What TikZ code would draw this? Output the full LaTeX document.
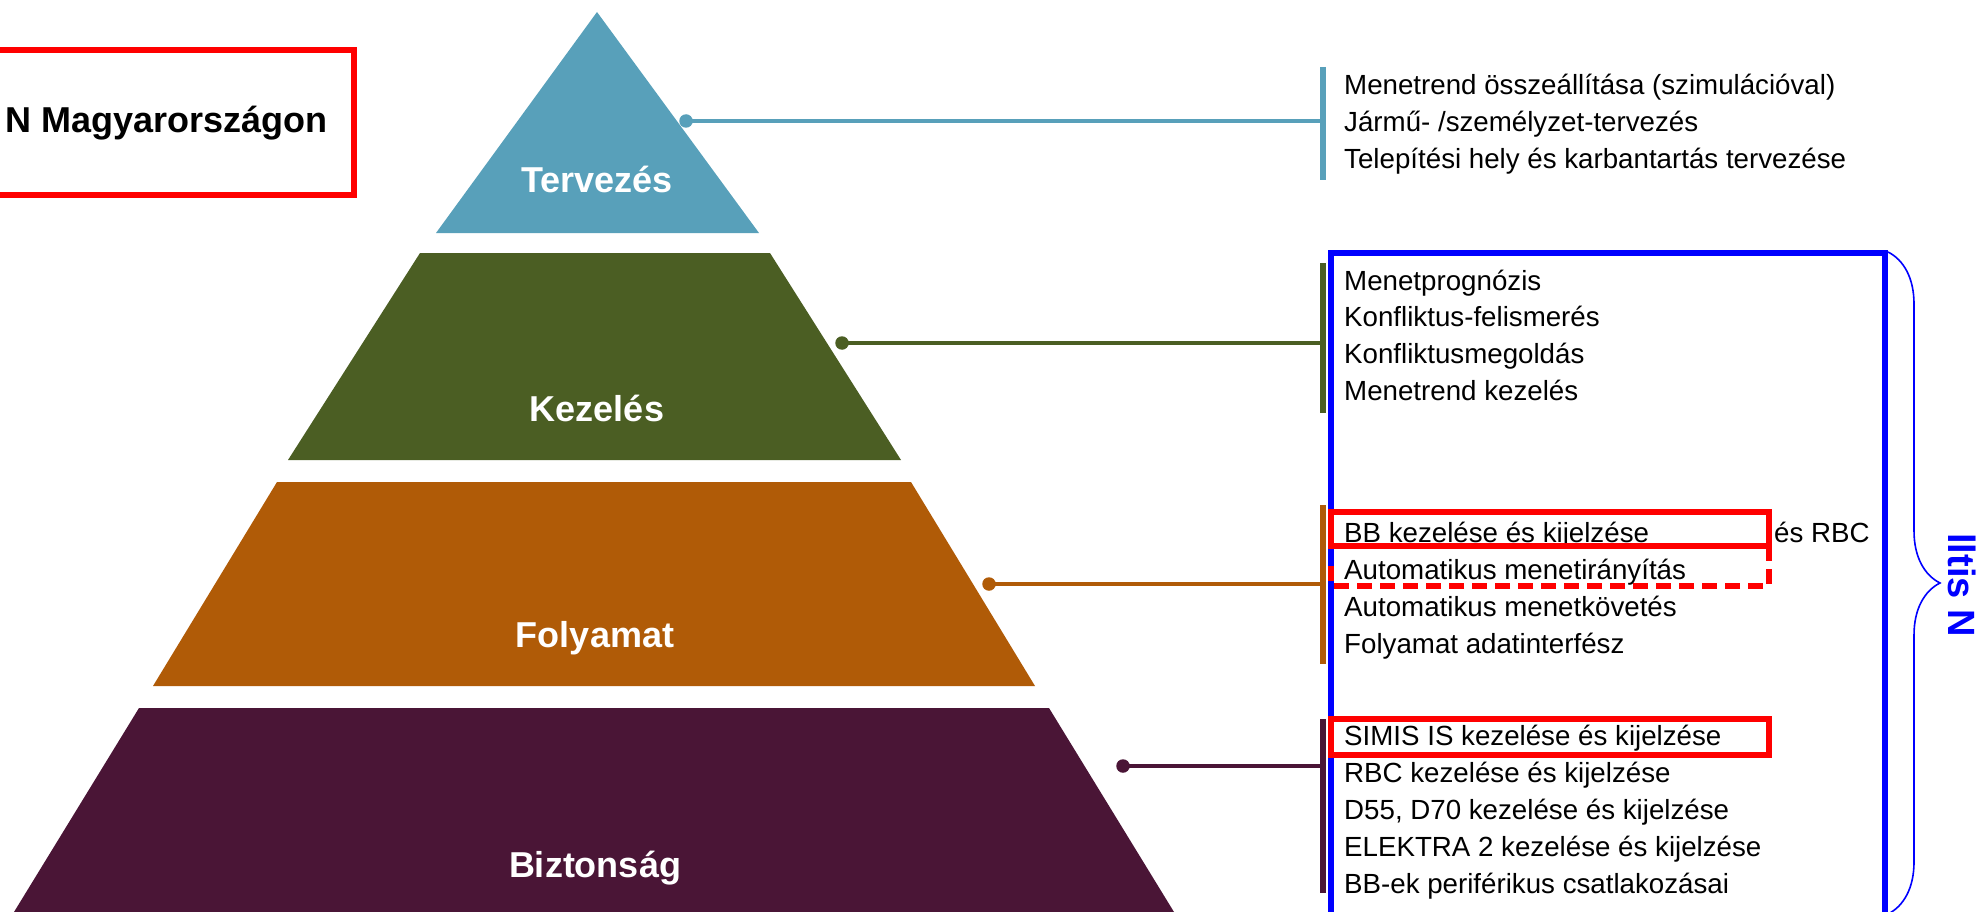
\documentclass[tikz,border=0pt]{standalone}
\usepackage{fontspec}
\setmainfont{Liberation Sans}
\usetikzlibrary{positioning, decorations.pathreplacing}
\definecolor{terv}{HTML}{58A0BA}
\definecolor{kez}{HTML}{4B5E23}
\definecolor{foly}{HTML}{B05B07}
\definecolor{bizt}{HTML}{4A1536}
\tikzset{
tierlabel/.style={text=white, font=\fontsize{36}{40}\selectfont\bfseries, inner sep=0pt, anchor=base},
listtext/.style={font=\fontsize{27.7}{32}\selectfont, inner sep=0pt, anchor=base west},
dot/.style={circle, fill=#1, inner sep=0pt, minimum size=13.5pt},
conn/.style={draw=#1, line width=4.5pt},
bracket/.style={draw=#1, line width=5.3pt},
redbox/.style={draw=red, line width=6.5pt},
}

\begin{document}
\begin{tikzpicture}[x=1pt, y=-1pt]
\useasboundingbox (0,0) rectangle (1980,912);
\clip (0,0) rectangle (1980,912);

    \draw[redbox, line width=6pt] (-20,50) rectangle (354,195);
    \node[font=\fontsize{36}{40}\selectfont\bfseries, inner sep=0pt, anchor=base west] (magy) at (5,133) {N Magyarországon};

    \fill[terv] (436,233) -- (597,12) -- (759,233) -- cycle;
    \fill[kez] (420,253) -- (770,253) -- (901,460) -- (288,460) -- cycle;
    \fill[foly] (277,482) -- (911,482) -- (1035,686) -- (153,686) -- cycle;
    \fill[bizt] (139,708) -- (1049,708) -- (1174,912) -- (14,912) -- cycle;
    \node[tierlabel] (lTerv) at (597,193) {Tervezés};
    \node[tierlabel] (lKez) at (597,421) {Kezelés};
    \node[tierlabel] (lFoly) at (595,647) {Folyamat};
    \node[tierlabel] (lBizt) at (595,877) {Biztonság};

    \node[dot=terv] (dTerv) at (686,121) {};
    \node[dot=kez] (dKez) at (842,343) {};
    \node[dot=foly] (dFoly) at (989,584) {};
    \node[dot=bizt] (dBizt) at (1123,766) {};
    \coordinate (bTerv) at (1323,121);
    \coordinate (bKez) at (1323,343);
    \coordinate (bFoly) at (1323,584);
    \coordinate (bBizt) at (1323,766);
    \draw[conn=terv] (dTerv.center) -- (bTerv);
    \draw[conn=kez] (dKez.center) -- (bKez);
    \draw[conn=foly] (dFoly.center) -- (bFoly);
    \draw[conn=bizt] (dBizt.center) -- (bBizt);
    \draw[bracket=terv] (1323,67) -- (1323,180);
    \draw[bracket=kez] (1323,263) -- (1323,413);
    \draw[bracket=foly] (1323,505) -- (1323,664);
    \draw[bracket=bizt] (1323,719) -- (1323,893);

    \foreach \txt [count=\i] in {{Menetrend összeállítása (szimulációval)}, {Jármű- /személyzet-tervezés}, {Telepítési hely és karbantartás tervezése}}
        \node[listtext] (terv\i) at (1344,95+36.6*\i-36.6) {\txt};
    \foreach \txt [count=\i] in {Menetprognózis, Konfliktus-felismerés, Konfliktusmegoldás, Menetrend kezelés}
        \node[listtext] (kez\i) at (1344,290+36.7*\i-36.7) {\txt};
    \foreach \txt [count=\i] in {BB kezelése és kijelzése, Automatikus menetirányítás, Automatikus menetkövetés, Folyamat adatinterfész}
        \node[listtext] (foly\i) at (1344,542+37*\i-37) {\txt};
    \foreach \txt [count=\i] in {SIMIS IS kezelése és kijelzése, RBC kezelése és kijelzése, {D55, D70 kezelése és kijelzése}, ELEKTRA 2 kezelése és kijelzése, BB-ek periférikus csatlakozásai}
        \node[listtext] (bizt\i) at (1344,745+37*\i-37) {\txt};
    \node[listtext] (esrbc) at (1774,542) {és RBC};

    \draw[blue, line width=6.5pt] (1331,253) rectangle (1885,940);
    \draw[blue, line width=1.6pt, decorate, decoration={brace, amplitude=52pt}] (1888,252) -- (1888,914);
    \node[text=blue, font=\fontsize{38}{40}\selectfont\bfseries, inner sep=0pt, rotate=-90] (iltis) at (1962,585) {lltis N};

    \draw[redbox] (1331,512) rectangle (1769,546);
    \draw[redbox, dash pattern=on 15pt off 8pt] (1769,546) -- (1769,586) -- (1331,586) -- (1331,560);
    \draw[redbox] (1331,719) rectangle (1769,755);
\end{tikzpicture}
\end{document}
